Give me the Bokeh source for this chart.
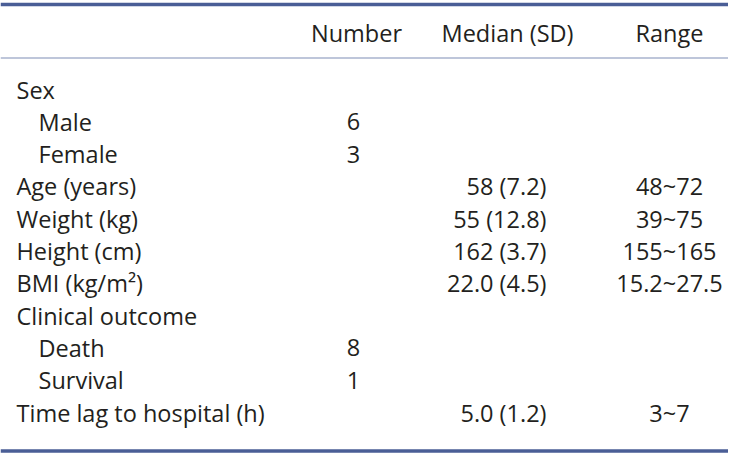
from bokeh.plotting import figure
from bokeh.models import Range1d, ColumnDataSource
from bokeh.core.properties import value
from bokeh.embed import file_html
from bokeh.resources import INLINE

# ---- table data ----
headers = ["Number", "Median (SD)", "Range"]
row_labels = ["Sex", "Male", "Female", "Age (years)", "Weight (kg)", "Height (cm)",
              "BMI (kg/m²)", "Clinical outcome", "Death", "Survival", "Time lag to hospital (h)"]
row_indent = [0, 1, 1, 0, 0, 0, 0, 0, 1, 1, 0]
numbers = ["", "6", "3", "", "", "", "", "", "8", "1", ""]
medians = ["", "", "", "58 (7.2)", "55 (12.8)", "162 (3.7)", "22.0 (4.5)", "", "", "", "5.0 (1.2)"]
ranges = ["", "", "", "48~72", "39~75", "155~165", "15.2~27.5", "", "", "", "3~7"]

# ---- layout (pixel coordinates) ----
W, H = 728, 454
FONT = value("Open Sans")
SIZE = "23.5px"
TXT = "#231f20"
RULE = "#4a5e96"

p = figure(width=W, height=H, output_backend="svg", toolbar_location=None,
           x_range=Range1d(0, W), y_range=Range1d(H, 0),
           min_border=0)
p.axis.visible = False
p.grid.visible = False
p.outline_line_color = None
p.background_fill_color = "white"

# rules
p.segment(x0=[0], x1=[W], y0=[4], y1=[4], line_color=RULE, line_width=3.5)
p.segment(x0=[0], x1=[W], y0=[57.5], y1=[57.5], line_color="#7e8db5", line_width=1.2)
p.segment(x0=[0], x1=[W], y0=[450.5], y1=[450.5], line_color=RULE, line_width=3.5)

# header
hdr_x = [356, 507, 669]
p.text(x=hdr_x, y=[32] * 3, text=headers, text_font=FONT, text_font_size=SIZE,
       text_color=TXT, text_align="center", text_baseline="middle")

row_y0, row_dy = 89, 32.3
ys = [row_y0 + i * row_dy for i in range(len(row_labels))]
lx = [16 + 22 * ind for ind in row_indent]

src = ColumnDataSource(dict(x=lx, y=ys, t=row_labels))
p.text(x="x", y="y", text="t", source=src, text_font=FONT, text_font_size=SIZE,
       text_color=TXT, text_align="left", text_baseline="middle")

src_n = ColumnDataSource(dict(x=[353] * len(ys), y=ys, t=numbers))
p.text(x="x", y="y", text="t", source=src_n, text_font=FONT, text_font_size=SIZE,
       text_color=TXT, text_align="center", text_baseline="middle")

src_m = ColumnDataSource(dict(x=[546] * len(ys), y=ys, t=medians))
p.text(x="x", y="y", text="t", source=src_m, text_font=FONT, text_font_size=SIZE,
       text_color=TXT, text_align="right", text_baseline="middle")

src_r = ColumnDataSource(dict(x=[669] * len(ys), y=ys, t=ranges))
p.text(x="x", y="y", text="t", source=src_r, text_font=FONT, text_font_size=SIZE,
       text_color=TXT, text_align="center", text_baseline="middle")

open("out.html", "w").write(file_html(p, INLINE))
